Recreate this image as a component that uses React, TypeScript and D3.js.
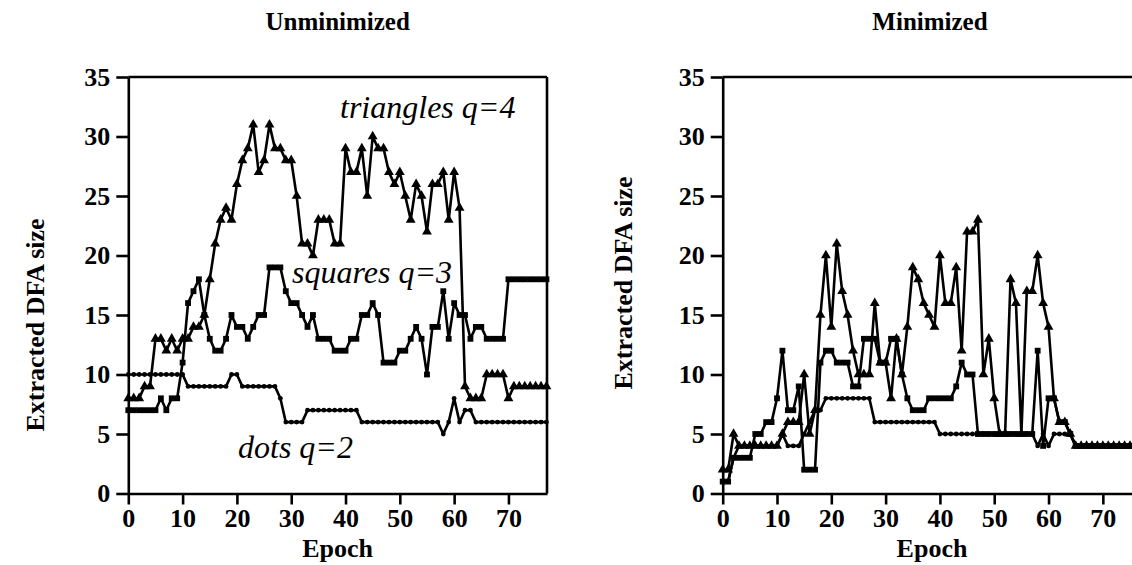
import React, { useEffect, useRef } from "react";
import * as d3 from "d3";

// tick labels
const epochTicks = [0, 10, 20, 30, 40, 50, 60, 70];
const sizeTicks = [0, 5, 10, 15, 20, 25, 30, 35];

// Unminimized DFA sizes, one value per epoch (0..77)
const unminTriangles = [
  8, 8, 8, 9, 9, 13, 13, 12, 13, 12,
  13, 13, 14, 14, 15, 18, 21, 23, 24, 23,
  26, 28, 29, 31, 27, 28, 31, 29, 29, 28,
  28, 25, 21, 21, 20, 23, 23, 23, 21, 21,
  29, 27, 27, 29, 25, 30, 29, 29, 27, 26,
  27, 25, 23, 26, 25, 22, 26, 26, 27, 23,
  27, 24, 9, 8, 8, 8, 10, 10, 10, 10,
  8, 9, 9, 9, 9, 9, 9, 9,
];
const unminSquares = [
  7, 7, 7, 7, 7, 7, 8, 7, 8, 8,
  11, 16, 17, 18, 15, 13, 12, 12, 13, 15,
  14, 14, 13, 14, 15, 15, 19, 19, 19, 17,
  16, 16, 15, 14, 15, 13, 13, 13, 12, 12,
  12, 13, 13, 15, 15, 16, 15, 11, 11, 11,
  12, 12, 13, 14, 13, 10, 14, 14, 17, 13,
  16, 15, 15, 13, 14, 14, 13, 13, 13, 13,
  18, 18, 18, 18, 18, 18, 18, 18,
];
const unminDots = [
  10, 10, 10, 10, 10, 10, 10, 10, 10, 10,
  10, 9, 9, 9, 9, 9, 9, 9, 9, 10,
  10, 9, 9, 9, 9, 9, 9, 9, 8, 6,
  6, 6, 6, 7, 7, 7, 7, 7, 7, 7,
  7, 7, 7, 6, 6, 6, 6, 6, 6, 6,
  6, 6, 6, 6, 6, 6, 6, 6, 5, 6,
  8, 6, 7, 7, 6, 6, 6, 6, 6, 6,
  6, 6, 6, 6, 6, 6, 6, 6,
];

// Minimized DFA sizes
const minTriangles = [
  2, 2, 5, 4, 4, 4, 4, 4, 4, 4,
  4, 5, 6, 6, 6, 10, 5, 7, 15, 20,
  14, 21, 17, 15, 12, 10, 10, 10, 16, 11,
  11, 8, 13, 10, 14, 19, 18, 16, 15, 14,
  20, 16, 16, 19, 12, 22, 22, 23, 10, 13,
  8, 5, 5, 18, 16, 5, 17, 17, 20, 16,
  14, 8, 6, 6, 5, 4, 4, 4, 4, 4,
  4, 4, 4, 4, 4, 4, 4, 4,
];
const minSquares = [
  1, 1, 3, 3, 3, 3, 5, 5, 6, 6,
  8, 12, 7, 7, 9, 2, 2, 2, 11, 12,
  12, 11, 11, 11, 9, 9, 13, 13, 13, 11,
  11, 13, 13, 10, 8, 7, 7, 7, 8, 8,
  8, 8, 8, 9, 11, 10, 10, 5, 5, 5,
  5, 5, 5, 5, 5, 5, 5, 5, 12, 4,
  8, 8, 6, 6, 5, 4, 4, 4, 4, 4,
  4, 4, 4, 4, 4, 4, 4, 4,
];
const minDots = [
  1, 1, 3, 4, 4, 4, 4, 4, 4, 4,
  4, 5, 4, 4, 4, 5, 6, 7, 7, 8,
  8, 8, 8, 8, 8, 8, 8, 8, 6, 6,
  6, 6, 6, 6, 6, 6, 6, 6, 6, 6,
  5, 5, 5, 5, 5, 5, 5, 5, 5, 5,
  5, 5, 5, 5, 5, 5, 5, 5, 4, 5,
  4, 5, 5, 5, 5, 4, 4, 4, 4, 4,
  4, 4, 4, 4, 4, 4, 4, 4,
];

const SERIF = "'Liberation Serif', 'Times New Roman', serif";

export default function App() {
  const svgRef = useRef<SVGSVGElement>(null);

  useEffect(() => {
    const svg = d3.select(svgRef.current);
    svg.selectAll("*").remove();

    const y = d3.scaleLinear().domain([0, 35]).range([493.5, 77]);

    const panels = [
      {
        left: 128.3, title: "Unminimized", border: true, labelX: 44, labelY: 325,
        series: [
          { data: unminTriangles, marker: "triangle" },
          { data: unminSquares, marker: "square" },
          { data: unminDots, marker: "dot" },
        ],
        notes: [
          { text: "triangles q=4", x: 340, y: 118 },
          { text: "squares q=3", x: 292, y: 283 },
          { text: "dots q=2", x: 238, y: 458 },
        ],
      },
      {
        left: 722.7, title: "Minimized", border: false, labelX: 632, labelY: 283,
        series: [
          { data: minTriangles, marker: "triangle" },
          { data: minSquares, marker: "square" },
          { data: minDots, marker: "dot" },
        ],
        notes: [],
      },
    ];

    panels.forEach((p) => {
      const x = d3.scaleLinear().domain([0, 77.1]).range([p.left, p.left + 418.7]);
      const g = svg.append("g");
      const right = x(77.1);

      // top frame line (and right one for the left panel)
      g.append("line")
        .attr("x1", x(0)).attr("x2", right)
        .attr("y1", y(35)).attr("y2", y(35))
        .attr("stroke", "#000").attr("stroke-width", 2.6);
      if (p.border) {
        g.append("line")
          .attr("x1", right).attr("x2", right)
          .attr("y1", y(35)).attr("y2", y(0))
          .attr("stroke", "#000").attr("stroke-width", 2.6);
      }

      // axes
      const xAxis = g.append("g")
        .attr("transform", `translate(0,${y(0)})`)
        .call(d3.axisBottom(x).tickValues(epochTicks).tickSize(11).tickSizeOuter(0).tickPadding(4));
      const yAxis = g.append("g")
        .attr("transform", `translate(${x(0)},0)`)
        .call(d3.axisLeft(y).tickValues(sizeTicks).tickSize(12).tickSizeOuter(0).tickPadding(6));
      [xAxis, yAxis].forEach((a) => {
        a.attr("font-family", SERIF).attr("font-size", 26).attr("font-weight", "bold");
        a.selectAll("path, line").attr("stroke", "#000").attr("stroke-width", 2.6);
        a.selectAll("text").attr("fill", "#000");
      });

      // titles
      const cx = (x(0) + x(77.1)) / 2;
      g.append("text")
        .attr("x", p.border ? cx : 930).attr("y", 30)
        .attr("text-anchor", "middle")
        .attr("font-family", SERIF).attr("font-size", 25).attr("font-weight", "bold")
        .text(p.title);
      g.append("text")
        .attr("x", p.border ? cx : 932).attr("y", 557)
        .attr("text-anchor", "middle")
        .attr("font-family", SERIF).attr("font-size", 26).attr("font-weight", "bold")
        .text("Epoch");
      g.append("text")
        .attr("transform", `translate(${p.labelX},${p.labelY}) rotate(-90)`)
        .attr("text-anchor", "middle")
        .attr("font-family", SERIF).attr("font-size", 26).attr("font-weight", "bold")
        .text("Extracted DFA size");

      // data lines with markers
      const line = d3.line<number>()
        .x((d, i) => x(i))
        .y((d) => y(d));

      p.series.forEach((s) => {
        g.append("path")
          .datum(s.data)
          .attr("fill", "none")
          .attr("stroke", "#000")
          .attr("stroke-width", 2.6)
          .attr("stroke-linejoin", "round")
          .attr("d", line);

        const sym = s.marker === "triangle" ? d3.symbolTriangle
          : s.marker === "square" ? d3.symbolSquare : d3.symbolCircle;
        const size = s.marker === "triangle" ? 42 : s.marker === "square" ? 34 : 18;
        g.selectAll(null)
          .data(s.data)
          .enter()
          .append("path")
          .attr("transform", (d, i) => `translate(${x(i)},${y(d)})`)
          .attr("d", d3.symbol().type(sym).size(size)())
          .attr("fill", "#000");
      });

      // series notes
      p.notes.forEach((n) => {
        g.append("text")
          .attr("x", n.x).attr("y", n.y)
          .attr("font-family", SERIF).attr("font-size", 32).attr("font-style", "italic")
          .text(n.text);
      });
    });
  }, []);

  return (
    <svg
      ref={svgRef}
      width={1132}
      height={565}
      style={{ position: "absolute", left: 0, top: 0, background: "#fff" }}
    />
  );
}
